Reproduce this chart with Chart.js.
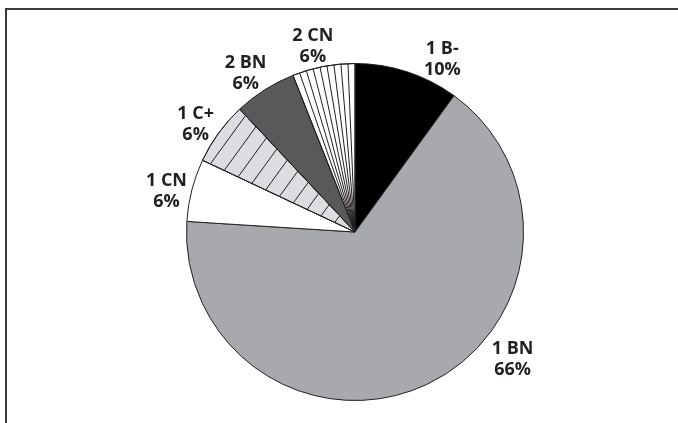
<!DOCTYPE html>
<html>
<head>
<meta charset="utf-8">
<script src="https://cdn.jsdelivr.net/npm/chart.js@4.4.1/dist/chart.umd.min.js"></script>
<style>
  html, body { margin: 0; padding: 0; background: #fff; }
  #wrap { position: relative; width: 678px; height: 423px; overflow: hidden; }
  #frame {
    position: absolute; left: 5px; top: 8px; width: 700px; height: 450px;
    border-left: 2px solid #3c3c3c; border-top: 2px solid #3c3c3c;
  }
  #pie { position: absolute; left: 0; top: 0; }
</style>
</head>
<body>
<div id="wrap">
  <div id="frame"></div>
  <canvas id="pie" width="678" height="423"></canvas>
</div>
<script>
// data, clockwise from 12 o'clock
const grades = ['1 B-', '1 BN', '1 CN', '1 C+', '2 BN', '2 CN'];
const shares = [10, 66, 6, 6, 6, 6];

const fills = ['#000000', '#a7a9ac', '#ffffff', '#dcdde0', '#58595b', '#ffffff'];
const fillStyle = ['solid', 'solid', 'solid', 'hatch', 'solid', 'rays'];

// label block centres, as fractions of the radius from the pie centre
const labelSpots = [
  [0.518, -1.030],
  [0.935, 0.750],
  [-1.119, -0.250],
  [-0.946, -0.646],
  [-0.649, -0.952],
  [-0.250, -1.110]
];

const INK = '#231f20';

const texturePlugin = {
  id: 'texture',
  afterDatasetsDraw(chart) {
    const ctx = chart.ctx;
    const meta = chart.getDatasetMeta(0);
    meta.data.forEach((arc, i) => {
      const kind = fillStyle[i];
      if (kind === 'solid') return;
      const { x, y, startAngle, endAngle, outerRadius } =
        arc.getProps(['x', 'y', 'startAngle', 'endAngle', 'outerRadius'], true);
      ctx.save();
      ctx.beginPath();
      ctx.moveTo(x, y);
      ctx.arc(x, y, outerRadius, startAngle, endAngle);
      ctx.closePath();
      ctx.clip();
      ctx.strokeStyle = INK;
      ctx.lineWidth = 1;
      ctx.beginPath();
      if (kind === 'hatch') {
        const m = (startAngle + endAngle) / 2;
        const ux = Math.cos(m), uy = Math.sin(m);
        const px = -uy, py = ux;
        for (let d = 22; d < outerRadius; d += 15) {
          const cx = x + ux * d, cy = y + uy * d;
          ctx.moveTo(cx - px * outerRadius, cy - py * outerRadius);
          ctx.lineTo(cx + px * outerRadius, cy + py * outerRadius);
        }
      } else if (kind === 'rays') {
        const n = 8;
        const step = (endAngle - startAngle) / (n + 1);
        for (let k = 1; k <= n; k++) {
          const a = startAngle + k * step;
          ctx.moveTo(x, y);
          ctx.lineTo(x + Math.cos(a) * outerRadius, y + Math.sin(a) * outerRadius);
        }
      }
      ctx.stroke();
      ctx.restore();

      // redraw the outline over the texture
      ctx.save();
      ctx.strokeStyle = INK;
      ctx.lineWidth = 1;
      ctx.beginPath();
      ctx.moveTo(x, y);
      ctx.arc(x, y, outerRadius, startAngle, endAngle);
      ctx.closePath();
      ctx.stroke();
      ctx.restore();
    });
  }
};

const labelPlugin = {
  id: 'sliceLabels',
  afterDraw(chart) {
    const ctx = chart.ctx;
    const arc = chart.getDatasetMeta(0).data[0];
    const { x, y, outerRadius } = arc.getProps(['x', 'y', 'outerRadius'], true);
    ctx.save();
    ctx.fillStyle = INK;
    ctx.font = 'bold 18px "Open Sans"';
    ctx.textAlign = 'center';
    ctx.textBaseline = 'alphabetic';
    grades.forEach((g, i) => {
      const cx = x + labelSpots[i][0] * outerRadius;
      const cy = y + labelSpots[i][1] * outerRadius;
      ctx.fillText(g, cx, cy - 10.5 + 6.5);
      ctx.fillText(shares[i] + '%', cx, cy + 10.5 + 6.5);
    });
    ctx.restore();
  }
};

new Chart(document.getElementById('pie'), {
  type: 'pie',
  data: {
    labels: grades,
    datasets: [{
      data: shares,
      backgroundColor: fills,
      borderColor: INK,
      borderWidth: 1
    }]
  },
  options: {
    responsive: false,
    animation: false,
    layout: {
      padding: { left: 186, right: 154, top: 63, bottom: 22 }
    },
    plugins: {
      legend: { display: false },
      tooltip: { enabled: false }
    }
  },
  plugins: [texturePlugin, labelPlugin]
});
</script>
</body>
</html>
